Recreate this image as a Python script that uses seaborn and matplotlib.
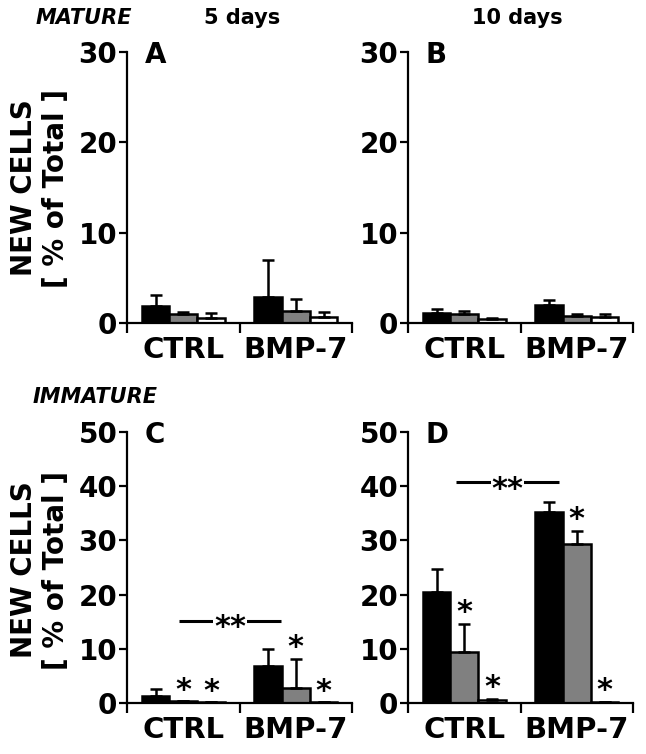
import numpy as np
import pandas as pd
import seaborn as sns
import matplotlib.pyplot as plt
from matplotlib.ticker import FixedLocator

groups = ["CTRL", "BMP-7"]
cell_types = ["type 1", "type 2", "type 3"]
colors = ["black", "#808080", "white"]

# mean values, one list per cell type: [CTRL, BMP-7]
mature_5d = [[1.9, 2.9], [0.95, 1.35], [0.55, 0.7]]
mature_5d_err = [[1.2, 4.1], [0.25, 1.3], [0.55, 0.5]]
mature_10d = [[1.1, 1.95], [1.0, 0.8], [0.4, 0.7]]
mature_10d_err = [[0.45, 0.65], [0.3, 0.25], [0.2, 0.3]]
immature_5d = [[1.3, 6.9], [0.3, 2.8], [0.1, 0.1]]
immature_5d_err = [[1.2, 3.1], [0.0, 5.3], [0.0, 0.0]]
immature_10d = [[20.4, 35.3], [9.5, 29.4], [0.5, 0.2]]
immature_10d_err = [[4.3, 1.8], [5.1, 2.4], [0.2, 0.0]]

# significance stars (1 = star above the bar)
immature_stars = [[0, 0], [1, 1], [1, 1]]

sns.set_style("ticks")
plt.rcParams['font.family'] = ['DejaVu Sans']
plt.rcParams['font.weight'] = 'bold'
for key in ['text.color', 'axes.labelcolor', 'xtick.color', 'ytick.color', 'axes.edgecolor']:
    plt.rcParams[key] = 'black'

fig = plt.figure(figsize=(6.46, 7.54), dpi=100)
W, H = 646, 754


def px_axes(left, right, top, bottom):
    return fig.add_axes([left / W, (H - bottom) / H, (right - left) / W, (bottom - top) / H])


def to_frame(means):
    rows = []
    for t, vals in zip(cell_types, means):
        for g, v in zip(groups, vals):
            rows.append({"group": g, "type": t, "value": v})
    return pd.DataFrame(rows)


def draw_panel(ax, means, errs, ymax, letter, stars=None, bracket=None):
    sns.barplot(data=to_frame(means), x="group", y="value", hue="type",
                order=groups, hue_order=cell_types, palette=colors,
                saturation=1, width=0.74, edgecolor="black", linewidth=1.8,
                errorbar=None, legend=False, ax=ax)
    bar_conts = list(ax.containers)
    for i, cont in enumerate(bar_conts):
        xs = [b.get_x() + b.get_width() / 2 for b in cont]
        hs = [b.get_height() for b in cont]
        ax.errorbar(xs, hs, yerr=[np.zeros(len(hs)), errs[i]], fmt="none",
                    ecolor="black", elinewidth=1.8, capsize=4.5, capthick=1.8,
                    zorder=1)
        if stars is not None:
            for x, h, e, s in zip(xs, hs, errs[i], stars[i]):
                if s:
                    ax.annotate("*", xy=(x, h + e), xytext=(0, 2),
                                textcoords="offset points", ha="center",
                                va="baseline", fontsize=22, fontweight="bold")
    if bracket is not None:
        x0, x1, y = bracket
        ax.plot([x0, x1], [y, y], color="black", lw=2.2, solid_capstyle="butt")
        ax.annotate("**", xy=((x0 + x1) / 2, y), xytext=(0, -11),
                    textcoords="offset points", ha="center", va="baseline",
                    fontsize=22, fontweight="bold",
                    bbox=dict(facecolor="white", edgecolor="none", pad=0.5))

    ax.set_xlim(-0.5, 1.5)
    ax.set_ylim(0, ymax)
    ax.set_yticks(np.arange(0, ymax + 1, 10))
    ax.xaxis.set_major_locator(FixedLocator([-0.5, 0.5, 1.5]))
    ax.xaxis.set_minor_locator(FixedLocator([0, 1]))
    ax.set_xticklabels([])
    ax.set_xticklabels(groups, minor=True)
    ax.tick_params(axis="x", which="minor", length=0, pad=9, labelsize=21)
    ax.tick_params(axis="x", which="major", length=7, width=1.6)
    ax.tick_params(axis="y", length=6, width=1.6, pad=1, labelsize=20)
    for lab in ax.get_yticklabels() + ax.get_xticklabels(minor=True):
        lab.set_fontweight("bold")
    ax.set_xlabel("")
    ax.set_ylabel("")
    sns.despine(ax=ax)
    ax.spines["left"].set_linewidth(1.6)
    ax.spines["bottom"].set_linewidth(1.6)
    ax.text(0.08, 1.04, letter, transform=ax.transAxes, ha="left", va="top",
            fontsize=20, fontweight="bold")


ax_a = px_axes(127, 352, 52, 323)
ax_b = px_axes(408, 633, 52, 323)
ax_c = px_axes(127, 352, 432, 703)
ax_d = px_axes(408, 633, 432, 703)

draw_panel(ax_a, mature_5d, mature_5d_err, 30, "A")
draw_panel(ax_b, mature_10d, mature_10d_err, 30, "B")
draw_panel(ax_c, immature_5d, immature_5d_err, 50, "C",
           stars=immature_stars, bracket=(-0.04, 0.87, 15.2))
draw_panel(ax_d, immature_10d, immature_10d_err, 50, "D",
           stars=immature_stars, bracket=(-0.075, 0.84, 40.7))

fig.text(84 / W, 1 - 18 / H, "MATURE", ha="center", va="center",
         fontsize=15, fontweight="bold", fontstyle="italic")
fig.text(242 / W, 1 - 18 / H, "5 days", ha="center", va="center",
         fontsize=15, fontweight="bold")
fig.text(517 / W, 1 - 18 / H, "10 days", ha="center", va="center",
         fontsize=15, fontweight="bold")
fig.text(95 / W, 1 - 397 / H, "IMMATURE", ha="center", va="center",
         fontsize=15, fontweight="bold", fontstyle="italic")

for yc in (188, 570):
    fig.text(40 / W, 1 - yc / H, "NEW CELLS\n[ % of Total ]", rotation=90,
             ha="center", va="center", fontsize=20, fontweight="bold",
             linespacing=1.15, multialignment="center")

fig.savefig("out.png", dpi=100)
